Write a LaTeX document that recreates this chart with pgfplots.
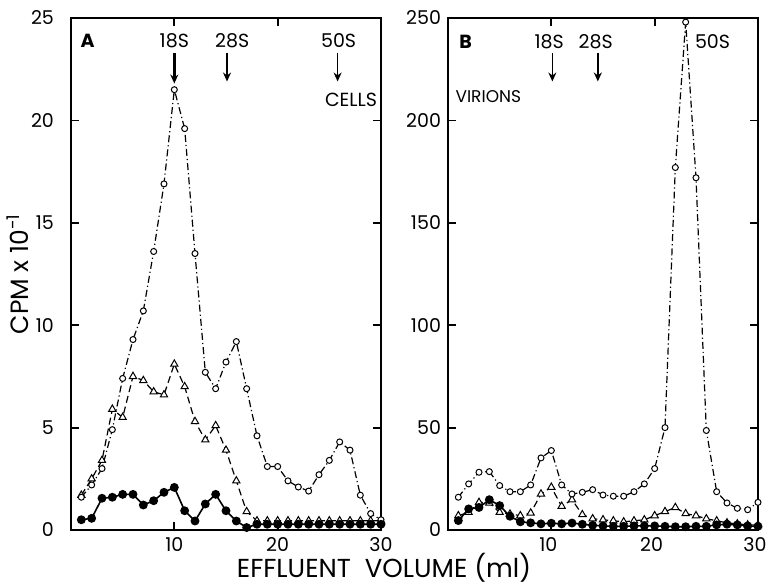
\documentclass[border=0pt]{standalone}
\usepackage{fontspec}
\setmainfont{Poppins}
\usepackage{pgfplots}
\pgfplotsset{compat=1.18}
\usetikzlibrary{arrows.meta}

% panel A, cells
\pgfplotstableread{
x circ tri fill
1 1.6 1.7 0.50
2 2.2 2.5 0.57
3 3.0 3.4 1.55
4 4.9 5.9 1.60
5 7.4 5.5 1.74
6 9.3 7.5 1.74
7 10.7 7.3 1.22
8 13.6 6.75 1.43
9 16.9 6.6 1.84
10 21.5 8.1 2.08
11 19.6 7.0 0.94
12 13.5 5.3 0.44
13 7.7 4.4 1.27
14 6.9 5.1 1.74
15 8.2 3.9 0.94
16 9.2 2.4 0.44
17 6.9 0.9 0.12
18 4.6 0.45 0.28
19 3.1 0.45 0.28
20 3.1 0.45 0.28
21 2.4 0.45 0.28
22 2.1 0.45 0.28
23 1.9 0.45 0.28
24 2.7 0.45 0.28
25 3.4 0.45 0.28
26 4.3 0.45 0.28
27 3.9 0.45 0.28
28 1.7 0.45 0.28
29 0.8 0.45 0.28
30 0.5 0.45 0.28
}\cells

% panel B, virions
\pgfplotstableread{
x circ tri fill
1 16 7 4.6
2 22.5 8.6 10.3
3 28.2 13.5 11
4 28.5 13.2 14.8
5 21.7 8.6 11.9
6 18.7 7.8 6.7
7 18.7 7 4
8 22 8.3 3.5
9 35.2 17.6 3
10 38.8 20.9 3.3
11 22 11.6 3
12 17.6 14.8 3.4
13 18.4 7.5 2.8
14 19.7 5.5 2.3
15 17.1 5 2
16 16.5 4.5 1.8
17 16.5 4 1.8
18 18.7 4.5 2
19 22.5 5 2
20 30 7 2
21 50 9 1.8
22 177 11 1.6
23 248 8 1.6
24 172 7 1.8
25 48.6 5.5 1.8
26 18.7 4.5 2.5
27 13.2 3.5 2.8
28 10.6 3 2.5
29 9.9 2.5 2
30 13.5 2.5 1.8
}\virions

\pgfplotsset{
  panel/.style={
    scale only axis, width=155pt, height=256pt,
    xmin=0, xmax=30, xtick={10,20,30},
    tick align=inside, major tick length=4pt,
    axis line style={line width=0.9pt},
    every tick/.style={black, line width=0.9pt},
    ticklabel style={font=\fontsize{9.5}{10}\selectfont},
    /pgf/number format/assume math mode=true,
    clip=false,
  },
  dashdot/.style={black, line width=0.6pt,
    dash pattern=on 3.5pt off 1.5pt on 0.6pt off 1.5pt,
    mark=*, mark size=1.5pt, mark options={solid, fill=white, line width=0.5pt}},
  dashtri/.style={black, line width=0.6pt,
    dash pattern=on 3.5pt off 2pt,
    mark=triangle*, mark size=2.1pt, mark options={solid, fill=white, line width=0.5pt}},
  solidfill/.style={black, line width=0.8pt, solid,
    mark=*, mark size=1.8pt},
}
\tikzset{
  lab/.style={font=\fontsize{9.5}{10}\selectfont},
  arr/.style={-{Stealth[length=4.5pt,width=4pt]}, line width=0.7pt},
}

\begin{document}
\begin{tikzpicture}
\begin{axis}[panel, ymin=0, ymax=25, ytick={0,5,...,25},
  yticklabel style={xshift=-5pt},
  ylabel={CPM x 10\textsuperscript{-1}},
  ylabel style={font=\fontsize{12.5}{13}\selectfont, at={(axis description cs:-0.115,0.5)}}]
\addplot[dashtri] table[x=x, y=tri] {\cells};
\addplot[dashdot] table[x=x, y=circ] {\cells};
\addplot[solidfill] table[x=x, y=fill] {\cells};
\node[font=\fontsize{9.5}{10}\selectfont\bfseries] at (axis cs:1.6,23.9) {A};
\node[lab] at (axis cs:10,23.9) {18S};
\draw[arr, line width=1.2pt] (axis cs:10,23.3) -- (axis cs:10,21.8);
\node[lab] at (axis cs:15.6,23.9) {28S};
\draw[arr] (axis cs:15.1,23.3) -- (axis cs:15.1,21.9);
\node[lab] at (axis cs:25.9,23.9) {50S};
\draw[arr] (axis cs:25.8,23.3) -- (axis cs:25.8,21.9);
\node[lab] at (axis cs:27.1,21.0) {CELLS};
\end{axis}

\begin{axis}[panel, at={(188.5pt,0pt)}, ymin=0, ymax=250, ytick={0,50,...,250},
  xticklabel style={xshift=-1.5pt}]
\addplot[dashtri] table[x=x, y=tri] {\virions};
\addplot[dashdot] table[x=x, y=circ] {\virions};
\addplot[solidfill] table[x=x, y=fill] {\virions};
\node[font=\fontsize{9.5}{10}\selectfont\bfseries] at (axis cs:1.7,238.6) {B};
\node[lab] at (axis cs:9.8,238.6) {18S};
\draw[arr] (axis cs:10.1,233) -- (axis cs:10.1,219);
\node[lab] at (axis cs:14.3,238.6) {28S};
\draw[arr] (axis cs:14.5,233) -- (axis cs:14.5,219);
\node[lab] at (axis cs:25.6,238.6) {50S};
\node[font=\fontsize{8.5}{9}\selectfont] at (axis cs:3.9,211.7) {VIRIONS};
\end{axis}

\node[font=\fontsize{13}{14}\selectfont] at (156.5pt,-19pt) {EFFLUENT\ \ VOLUME (ml)};
\pgfresetboundingbox
\path[use as bounding box] (-35.5pt,-27.5pt) rectangle (348pt,265pt);
\end{tikzpicture}
\end{document}
